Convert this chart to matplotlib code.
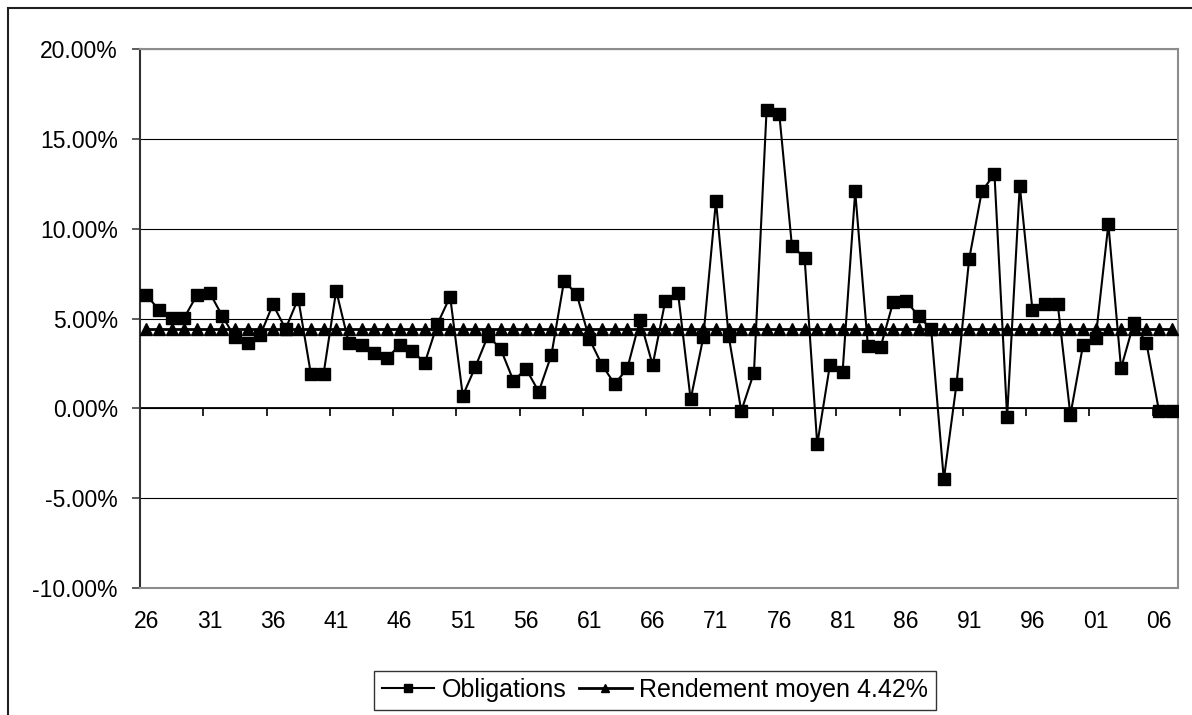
import matplotlib.pyplot as plt
import numpy as np
from matplotlib.patches import Rectangle

plt.rcParams['font.family'] = ['Liberation Sans', 'DejaVu Sans']

# Annual returns (%), 1926 -> 2007
years = list(range(1926, 2008))
obligations = [
    6.31, 5.48, 5.05, 5.05, 6.31, 6.44, 5.14, 3.95, 3.62, 4.07,  # 26-35
    5.79, 4.42, 6.11, 1.91, 1.91, 6.55, 3.62, 3.51, 3.10, 2.78,  # 36-45
    3.51, 3.19, 2.54, 4.70, 6.22, 0.70, 2.32, 4.05, 3.29, 1.54,  # 46-55
    2.19, 0.93, 2.97, 7.09, 6.35, 3.86, 2.41, 1.35, 2.23, 4.92,  # 56-65
    2.41, 5.99, 6.44, 0.50, 3.95, 11.55, 4.05, -0.15, 1.98, 16.62,  # 66-75
    16.40, 9.04, 8.39, -2.01, 2.41, 2.00, 12.07, 3.49, 3.40, 5.91,  # 76-85
    6.00, 5.14, 4.40, -3.96, 1.34, 8.30, 12.07, 13.05, -0.47, 12.40,  # 86-95
    5.48, 5.79, 5.79, -0.37, 3.53, 3.93, 10.25, 2.23, 4.73, 3.66,  # 96-05
    -0.15, -0.15,  # 06-07
]
rendement_moyen = 4.42
label_obl = "Obligations"
label_moy = "Rendement moyen 4.42%"

x = np.arange(len(years))
avg = np.full(len(years), rendement_moyen)

fig = plt.figure(figsize=(11.92, 7.15), dpi=100)
ax = fig.add_axes([140 / 1192, 1 - 588 / 715, 1038 / 1192, 539 / 715])

ax.plot(x, obligations, color='black', lw=1.5, marker='s', ms=8,
        mfc='black', mec='black', label=label_obl, zorder=4)
ax.plot(x, avg, color='black', lw=2, marker='^', ms=8.5,
        mfc='black', mec='black', label=label_moy, zorder=3)

ax.set_xlim(-0.5, len(years) - 0.5)
ax.set_ylim(-10, 20)

# y axis
yt = np.arange(-10, 21, 5)
ax.set_yticks(yt)
ax.set_yticklabels([f"{v:.2f}%" for v in yt])
ax.yaxis.grid(True, color='black', lw=0.8)
ax.set_axisbelow(True)
ax.tick_params(axis='y', direction='out', length=6, width=1.2, pad=10,
               labelsize=16.5, color='#404040')

# x labels at the bottom, every 5 years
xt = x[::5]
ax.set_xticks(xt)
ax.set_xticklabels([f"{years[i] % 100:02d}" for i in xt])
ax.tick_params(axis='x', length=0, pad=16, labelsize=16.5)

# category axis at 0 with tick marks between categories
sec = ax.secondary_xaxis(0, transform=ax.transData)
sec.set_xticks(np.arange(-0.5, len(years), 5))
sec.set_xticklabels([])
sec.tick_params(axis='x', direction='out', length=6, width=1.2, color='black')
sec.spines['bottom'].set_linewidth(1.3)
sec.spines['bottom'].set_color('black')

for s in ['top', 'right', 'bottom']:
    ax.spines[s].set_color('#8c8c8c')
    ax.spines[s].set_linewidth(1.5)
ax.spines['left'].set_color('#303030')
ax.spines['left'].set_linewidth(1.5)

# outer chart border (only left and top are in view)
fig.patches.append(Rectangle((8 / 1192, -0.05), 1.1, 1 - 8 / 715 + 0.05,
                             transform=fig.transFigure, fill=False,
                             edgecolor='#202020', lw=1.5))

leg = fig.legend(loc='center', bbox_to_anchor=(655 / 1192, 1 - 690 / 715),
                 ncol=2, fontsize=18, frameon=True, fancybox=False,
                 edgecolor='black', handlelength=2.1, handletextpad=0.3,
                 columnspacing=0.5, borderpad=0.3, markerscale=0.75)
leg.get_frame().set_linewidth(1.0)

fig.savefig("out.png", dpi=100)
